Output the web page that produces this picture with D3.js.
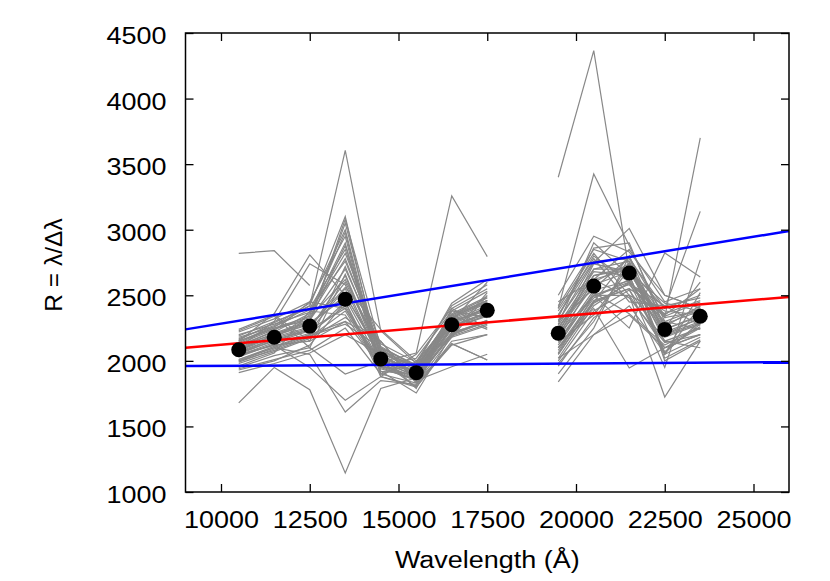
<!DOCTYPE html>
<html lang="en">
<head>
<meta charset="UTF-8">
<script src="https://d3js.org/d3.v7.min.js"></script>
<title>Resolution</title>
<style>
body { margin: 0; background: #fff; }
svg { display: block; }
text { font-family: 'Liberation Sans', Arial, Helvetica, sans-serif; fill: #000; }
</style>
</head>
<body>
<svg id="canvas"></svg>
<script>
// wavelengths of the order centres (Angstrom)
let jhWaves = [10500, 11500, 12500, 13500, 14500, 15500, 16500, 17500]
let kWaves = [19500, 20500, 21500, 22500, 23500]

// mean resolution per order
let jhMean = [2085, 2180, 2265, 2470, 2015, 1910, 2275, 2385]
let kMean = [2210, 2570, 2670, 2240, 2340]

// individual measurements (grey), one row per frame
let jhRows = [
    [2100, 2190, 2280, 2500, 2030, 1920, 2290, 2400],
    [2050, 2160, 2240, 2650, 1990, 1890, 2260, 2360],
    [2180, 2260, 2390, 2760, 2110, 1960, 2200, 2520],
    [1960, 2060, 2380, 2350, 1940, 1860, 2200, 2300],
    [2220, 2320, 2450, 2950, 1900, 1990, 2420, 2580],
    [2010, 2110, 2200, 2300, 2150, 1840, 2400, 2250],
    [2130, 2240, 2330, 2620, 2080, 1950, 2330, 2450],
    [2080, 2200, 2300, 3050, 2010, 1900, 2280, 2390],
    [2160, 2290, 2420, 3100, 1950, 1940, 2350, 2480],
    [1990, 2090, 2190, 2280, 2100, 1870, 2190, 2280],
    [2240, 2350, 2150, 2720, 2060, 1930, 2310, 2420],
    [1930, 2000, 2120, 2450, 1880, 1810, 2380, 2330],
    [2070, 2170, 2350, 2900, 1880, 2050, 2400, 2550],
    [2110, 2230, 2450, 2400, 1960, 1880, 2250, 2340],
    [1910, 1980, 2060, 2200, 2050, 1790, 2350, 2240],
    [2190, 2300, 2400, 2850, 2040, 1910, 2300, 2600],
    [2040, 2140, 2230, 2550, 2000, 1920, 2310, 2380],
    [2150, 2250, 2310, 2700, 2100, 1970, 2440, 2620],
    [2000, 2080, 2180, 2380, 1950, 1850, 2210, 2310],
    [2120, 2220, 2360, 2980, 1920, 1900, 2290, 2410],
    [2060, 2170, 2250, 2600, 2070, 1960, 2350, 2460],
    [2200, 2280, 2370, 2820, 2130, 1990, 2180, 2500],
    [1950, 2040, 2100, 1900, 2000, 1800, 2150, 2200],
    [2090, 2190, 2290, 2480, 1980, 1870, 2240, 2350],
    [2170, 2270, 2440, 3000, 1960, 2020, 2380, 2530],
    [2030, 2130, 2210, 2420, 1970, 1860, 2220, 2290],
    [2140, 2250, 2340, 2780, 2090, 1940, 2320, 2440],
    [2230, 2340, 2100, 2660, 2020, 1920, 2270, 2370],
    [1980, 2070, 2170, 2330, 2150, 1830, 2180, 2270],
    [2100, 2210, 2310, 2880, 2060, 1950, 2360, 2490],
    [2820, 2840, 2575, null, null, null, null, null],
    [1680, 1950, 1780, 1145, 1790, 1870, 2200, 2300],
    [2150, 2260, 2420, 3605, 2230, 1980, 2330, 2460],
    [2150, 2360, 2808, 2500, 2050, 1900, 2250, 2350],
    [2000, 2100, 2050, 1610, 1850, 1820, 2120, 2200],
    [2040, 2120, 1950, 1700, 1880, 1800, 2130, 2007],
    [2060, 2150, 2240, 2400, 1990, 2060, 3258, 2795],
    [2010, 2100, 2200, 2450, 1920, 1755, 2200, 2310],
    [2050, 2120, 2150, 2300, 1960, 1850, 1955, 2050],
    [1940, 2010, 2080, 2250, 1900, 1830, 2130, 2007],
    [2120, 2200, 2300, 3080, 2100, 1960, 2340, 2460],
    [2080, 2180, 2260, 2560, 2240, 2000, 2300, 2400],
    [2100, 2300, 2740, 2580, 2000, 1880, 2260, 2370]
]

let kRows = [
    [2200, 2580, 2680, 2240, 2340],
    [2100, 2480, 2620, 2190, 2290],
    [2310, 2700, 2760, 2050, 2420],
    [2000, 2380, 2540, 2150, 2250],
    [2400, 2820, 2500, 2360, 2460],
    [1960, 2330, 2500, 2100, 2200],
    [2250, 2650, 2720, 2280, 2380],
    [2150, 2540, 2610, 2220, 2320],
    [2350, 2760, 2780, 2400, 2500],
    [2050, 2440, 2590, 2420, 2270],
    [2280, 2900, 2650, 2050, 2180],
    [1900, 2250, 2800, 2000, 2150],
    [2450, 2620, 2850, 2450, 2550],
    [2120, 2520, 2360, 2120, 2260],
    [2500, 2950, 2830, 2500, 2400],
    [2180, 2700, 2700, 2330, 2380],
    [2020, 2200, 2420, 2060, 2300],
    [2330, 2860, 2900, 2250, 2600],
    [2080, 2460, 2550, 2380, 2350],
    [2230, 2600, 2740, 2180, 2280],
    [2140, 2350, 2700, 2260, 2420],
    [2380, 2780, 2450, 2420, 2480],
    [1980, 2300, 2750, 2020, 2160],
    [2270, 2680, 2650, 2050, 2520],
    [2060, 2500, 2580, 2300, 2240],
    [2420, 2850, 2760, 2200, 2330],
    [2160, 2620, 2480, 2140, 2200],
    [2300, 2550, 2790, 2340, 2450],
    [2020, 2420, 2600, 2070, 2280],
    [2200, 2740, 2680, 2440, 2380],
    [3400, 4365, 2680, 2240, 2350],
    [2400, 3425, 2880, 2300, 2400],
    [2150, 2500, 2600, 2330, 3700],
    [2250, 2650, 2700, 2400, 3140],
    [1840, 2200, 2350, 2100, 2200],
    [2100, 2400, 1946, 2100, 2250],
    [2200, 2500, 2500, 1724, 2150],
    [2300, 2750, 3010, 2500, 2400],
    [2150, 2500, 2250, 2823, 2640],
    [2050, 2450, 2550, 1950, 2770],
    [2250, 2620, 2700, 2150, 2100],
    [2350, 2800, 2600, 2350, 2550],
    [2100, 2450, 2800, 2200, 2300]
]

// straight-line fits: upper envelope, mean, lower envelope
let fitWaves = [9000, 26000]
let upperFit = [2240, 2990]
let meanFit = [2100, 2487]
let lowerFit = [1960, 1990]

let xTicks = [10000, 12500, 15000, 17500, 20000, 22500, 25000]
let yTicks = [1000, 1500, 2000, 2500, 3000, 3500, 4000, 4500]

let width = 830
let height = 581
let plotLeft = 185.5
let plotRight = 789
let plotTop = 33
let plotBottom = 492
let fontSize = 24.5
let stretch = 1.1

let svg = d3.select('#canvas')
    .attr('width', width)
    .attr('height', height)

let xScale = d3.scaleLinear().domain([9000, 26000]).range([plotLeft, plotRight])
let yScale = d3.scaleLinear().domain([1000, 4500]).range([plotBottom, plotTop])

let line = d3.line()
    .defined(d => d[1] != null)
    .x(d => xScale(d[0]))
    .y(d => yScale(d[1]))

let zip = (xs, ys) => xs.map((x, i) => [x, ys[i]])

// grey measurement lines
let grey = svg.append('g')
    .attr('fill', 'none')
    .attr('stroke', '#888888')
    .attr('stroke-width', 1.2)

jhRows.forEach(row => {
    grey.append('path').attr('d', line(zip(jhWaves, row)))
})
kRows.forEach(row => {
    grey.append('path').attr('d', line(zip(kWaves, row)))
})

// fit lines
let fits = [
    { values: upperFit, color: '#0000ff' },
    { values: lowerFit, color: '#0000ff' },
    { values: meanFit, color: '#ff0000' }
]
fits.forEach(f => {
    svg.append('path')
        .attr('d', line(zip(fitWaves, f.values)))
        .attr('fill', 'none')
        .attr('stroke', f.color)
        .attr('stroke-width', 2.5)
})

// mean points
let points = zip(jhWaves, jhMean).concat(zip(kWaves, kMean))
svg.append('g')
    .selectAll('circle')
    .data(points)
    .enter()
    .append('circle')
    .attr('cx', d => xScale(d[0]))
    .attr('cy', d => yScale(d[1]))
    .attr('r', 7.5)
    .attr('fill', '#000')

// axes, ticks pointing inward on all four sides
let tickLen = 8

let xAxis = d3.axisBottom(xScale).tickValues(xTicks).tickFormat(d3.format('d'))
    .tickSizeInner(-tickLen).tickSizeOuter(0).tickPadding(19)
let yAxis = d3.axisLeft(yScale).tickValues(yTicks).tickFormat(d3.format('d'))
    .tickSizeInner(-tickLen).tickSizeOuter(0).tickPadding(19)

let gx = svg.append('g')
    .attr('transform', 'translate(0,' + plotBottom + ')')
    .call(xAxis)
gx.selectAll('text')
    .style('font-size', fontSize + 'px')
    .attr('transform', 'scale(' + stretch + ',1)')

let gy = svg.append('g')
    .attr('transform', 'translate(' + plotLeft + ',0)')
    .call(yAxis)
gy.selectAll('text')
    .style('font-size', fontSize + 'px')
    .attr('x', -19 / stretch)
    .attr('dy', '0.43em')
    .attr('transform', 'scale(' + stretch + ',1)')

svg.append('g')
    .attr('transform', 'translate(0,' + plotTop + ')')
    .call(d3.axisTop(xScale).tickValues(xTicks).tickFormat('').tickSizeInner(-tickLen).tickSizeOuter(0))
svg.append('g')
    .attr('transform', 'translate(' + plotRight + ',0)')
    .call(d3.axisRight(yScale).tickValues(yTicks).tickFormat('').tickSizeInner(-tickLen).tickSizeOuter(0))

svg.selectAll('.domain').remove()
svg.selectAll('.tick line').attr('stroke', '#000').attr('stroke-width', 1.3)

svg.append('rect')
    .attr('x', plotLeft)
    .attr('y', plotTop)
    .attr('width', plotRight - plotLeft)
    .attr('height', plotBottom - plotTop)
    .attr('fill', 'none')
    .attr('stroke', '#000')
    .attr('stroke-width', 1.5)

// axis titles
svg.append('text')
    .attr('transform', 'translate(' + (plotLeft + plotRight) / 2 + ',568.3) scale(' + stretch + ',1)')
    .attr('text-anchor', 'middle')
    .style('font-size', fontSize + 'px')
    .text('Wavelength (Å)')

svg.append('text')
    .attr('transform', 'translate(61.7,265) rotate(-90)')
    .attr('text-anchor', 'middle')
    .style('font-size', fontSize + 'px')
    .text('R = λ/Δλ')
</script>
</body>
</html>
